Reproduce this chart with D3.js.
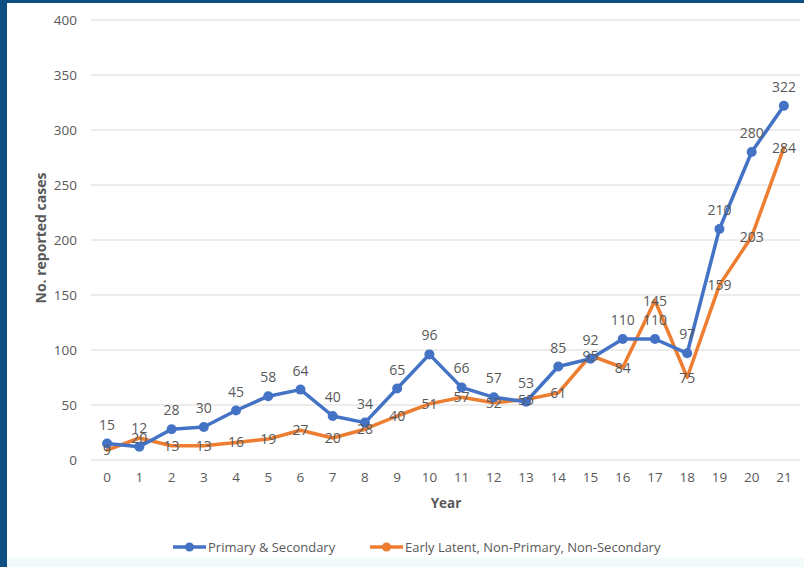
<!DOCTYPE html>
<html>
<head>
<meta charset="utf-8">
<script src="https://cdn.jsdelivr.net/npm/d3@7"></script>
<style>
  html, body { margin: 0; padding: 0; background: #ffffff; }
  svg { display: block; }
  text { font-family: "Open Sans", "Noto Sans", sans-serif; fill: #595959; }
</style>
</head>
<body>
<svg id="chart" width="804" height="567"></svg>
<script>
// Reported cases per year, by stage
const years = d3.range(0, 22).map(String);
const primarySecondary = [15, 12, 28, 30, 45, 58, 64, 40, 34, 65, 96, 66, 57, 53, 85, 92, 110, 110, 97, 210, 280, 322];
const earlyLatent = [9, 20, 13, 13, 16, 19, 27, 20, 28, 40, 51, 57, 52, 55, 61, 95, 84, 145, 75, 159, 203, 284];
const yTicks = [0, 50, 100, 150, 200, 250, 300, 350, 400];
const seriesNames = ["Primary & Secondary", "Early Latent, Non-Primary, Non-Secondary"];
const seriesColors = ["#4472C4", "#ED7D31"];

const svg = d3.select("#chart");
const W = 804, H = 567;

// slide frame
svg.append("rect").attr("x", 0).attr("y", 0).attr("width", W).attr("height", H).attr("fill", "#ffffff");
svg.append("rect").attr("x", 0).attr("y", 558).attr("width", W).attr("height", 9).attr("fill", "#F3FAFC");
svg.append("rect").attr("x", 0).attr("y", 0).attr("width", W).attr("height", 3).attr("fill", "#0E4F82");
svg.append("rect").attr("x", 0).attr("y", 0).attr("width", 7).attr("height", H).attr("fill", "#0E4F82");

const plot = { left: 91, right: 800, top: 20, bottom: 460 };

const x = d3.scaleBand().domain(years).range([plot.left, plot.right]);
const y = d3.scaleLinear().domain([0, 400]).range([plot.bottom, plot.top]);
const cx = d => x(d) + x.bandwidth() / 2;

// horizontal gridlines
svg.append("g").selectAll("line").data(yTicks).join("line")
  .attr("x1", plot.left).attr("x2", plot.right)
  .attr("y1", d => y(d)).attr("y2", d => y(d))
  .attr("stroke", "#D9D9D9").attr("stroke-width", 1.2);

// y axis labels
const yAxis = svg.append("g")
  .attr("transform", `translate(${plot.left - 14},0)`)
  .call(d3.axisLeft(y).tickValues(yTicks).tickSize(0).tickPadding(0));
yAxis.select(".domain").remove();
yAxis.selectAll("text").style("font-size", "13.5px").attr("fill", "#595959");

// x axis labels
const xAxis = svg.append("g")
  .attr("transform", `translate(0,${plot.bottom + 12})`)
  .call(d3.axisBottom(x).tickSize(0).tickPadding(0));
xAxis.select(".domain").remove();
xAxis.selectAll("text").style("font-size", "13.5px").attr("fill", "#595959").attr("dy", "0.71em");

// axis titles
svg.append("text")
  .attr("x", 446).attr("y", 508)
  .attr("text-anchor", "middle")
  .style("font-size", "13.5px").style("font-weight", "bold")
  .text("Year");
svg.append("text")
  .attr("transform", `translate(46,${(plot.top + plot.bottom) / 2 - 2}) rotate(-90)`)
  .attr("text-anchor", "middle")
  .style("font-size", "14px").style("font-weight", "bold")
  .text("No. reported cases");

const line = d3.line().x((d, i) => cx(years[i])).y(d => y(d));

// Early latent series (drawn first so the blue line sits on top)
svg.append("path").datum(earlyLatent)
  .attr("d", line).attr("fill", "none")
  .attr("stroke", seriesColors[1]).attr("stroke-width", 3.5)
  .attr("stroke-linejoin", "round").attr("stroke-linecap", "round");

// Primary & Secondary series
svg.append("path").datum(primarySecondary)
  .attr("d", line).attr("fill", "none")
  .attr("stroke", seriesColors[0]).attr("stroke-width", 3.5)
  .attr("stroke-linejoin", "round").attr("stroke-linecap", "round");
svg.append("g").selectAll("circle").data(primarySecondary).join("circle")
  .attr("cx", (d, i) => cx(years[i])).attr("cy", d => y(d)).attr("r", 5)
  .attr("fill", seriesColors[0]);

// data labels: blue above its points, orange centred on its points
svg.append("g").selectAll("text").data(primarySecondary).join("text")
  .attr("x", (d, i) => cx(years[i])).attr("y", d => y(d) - 14)
  .attr("text-anchor", "middle")
  .style("font-size", "14px")
  .text(d => d);
svg.append("g").selectAll("text").data(earlyLatent).join("text")
  .attr("x", (d, i) => cx(years[i])).attr("y", d => y(d) + 5)
  .attr("text-anchor", "middle")
  .style("font-size", "14px")
  .text(d => d);

// legend
const legendItems = [{ x: 173, tx: 208 }, { x: 370, tx: 405 }];
const lg = svg.append("g");
legendItems.forEach((p, i) => {
  lg.append("line")
    .attr("x1", p.x).attr("x2", p.x + 33).attr("y1", 547).attr("y2", 547)
    .attr("stroke", seriesColors[i]).attr("stroke-width", 3.5);
  lg.append("circle").attr("cx", p.x + 16.5).attr("cy", 547).attr("r", 4.5)
    .attr("fill", seriesColors[i]);
  lg.append("text").attr("x", p.tx).attr("y", 551.5)
    .style("font-size", "13px")
    .text(seriesNames[i]);
});
</script>
</body>
</html>
